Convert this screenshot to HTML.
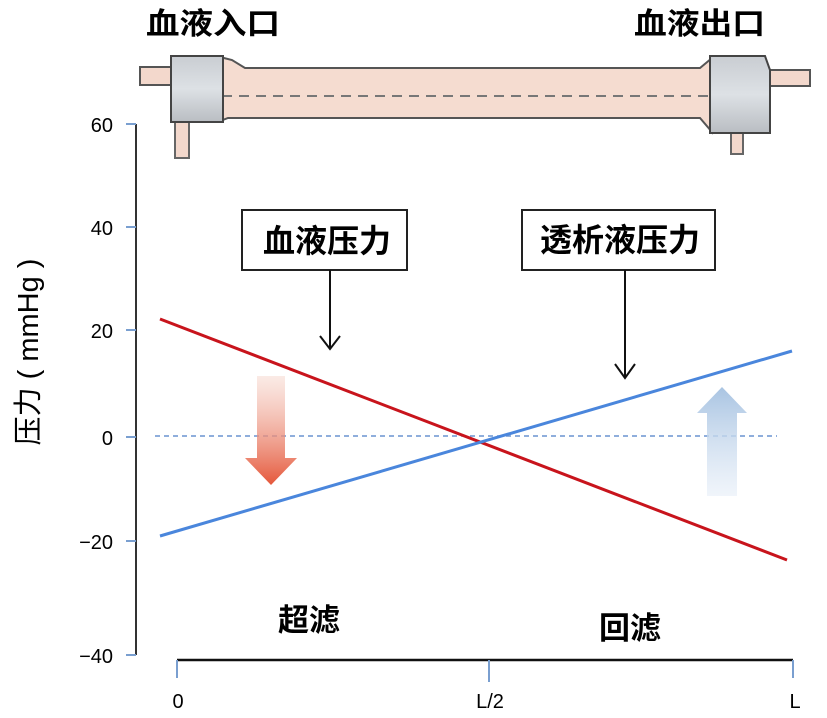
<!DOCTYPE html>
<html><head><meta charset="utf-8"><style>
html,body{margin:0;padding:0;background:#fff;}
svg{display:block}
text{font-family:"Liberation Sans","Noto Sans CJK SC",sans-serif;}
</style></head><body>
<svg width="827" height="718" viewBox="0 0 827 718" xmlns="http://www.w3.org/2000/svg">
<defs>
<linearGradient id="rg" x1="0" y1="0" x2="0" y2="1">
<stop offset="0" stop-color="#f6d6cc" stop-opacity="0.5"/><stop offset="1" stop-color="#e5573a"/>
</linearGradient>
<linearGradient id="bg" x1="0" y1="0" x2="0" y2="1">
<stop offset="0" stop-color="#a9c4e2"/><stop offset="1" stop-color="#e6eef8" stop-opacity="0.6"/>
</linearGradient>
<linearGradient id="gb" x1="0" y1="0" x2="0" y2="1">
<stop offset="0" stop-color="#c9cdd2"/><stop offset="0.5" stop-color="#dde1e5"/><stop offset="1" stop-color="#b9bdc2"/>
</linearGradient>
</defs>
<text x="146" y="34" font-size="30" font-weight="bold" textLength="134" lengthAdjust="spacingAndGlyphs">血液入口</text>
<text x="634" y="34" font-size="30" font-weight="bold" textLength="131" lengthAdjust="spacingAndGlyphs">血液出口</text>
<rect x="140" y="67" width="35" height="18" fill="#f3d8cc" stroke="#555" stroke-width="2"/>
<rect x="770" y="70" width="40" height="16" fill="#f3d8cc" stroke="#555" stroke-width="2"/>
<rect x="175" y="120" width="14" height="38" fill="#f3d8cc" stroke="#666" stroke-width="2"/>
<rect x="731" y="128" width="12" height="26" fill="#f3d8cc" stroke="#666" stroke-width="2"/>
<path d="M220 57 L232 60 L245 68 L700 68 L712 58 L712 132 L700 118 L228 118 L220 121 Z" fill="#f5dcd0" stroke="#555" stroke-width="2"/>
<line x1="222" y1="96" x2="710" y2="96" stroke="#777" stroke-width="2" stroke-dasharray="10,7"/>
<rect x="171" y="56" width="52" height="66" fill="url(#gb)" stroke="#444" stroke-width="2"/>
<path d="M710 56 L765 56 L770 70 L770 133 L710 133 Z" fill="url(#gb)" stroke="#444" stroke-width="2"/>
<line x1="136" y1="124" x2="136" y2="655" stroke="#333" stroke-width="2"/>
<g stroke="#7a9fd0" stroke-width="2">
<line x1="126" y1="124" x2="136" y2="124"/><line x1="126" y1="227" x2="136" y2="227"/>
<line x1="126" y1="330" x2="136" y2="330"/><line x1="126" y1="437" x2="136" y2="437"/>
<line x1="126" y1="541" x2="136" y2="541"/><line x1="126" y1="655" x2="136" y2="655"/>
</g>
<g font-size="20" text-anchor="end">
<text x="113" y="132">60</text><text x="113" y="235">40</text><text x="113" y="338">20</text>
<text x="113" y="445">0</text><text x="113" y="549">−20</text><text x="113" y="663">−40</text>
</g>
<text transform="translate(38,352) rotate(-90)" font-size="29" text-anchor="middle">压力 ( mmHg )</text>
<line x1="177" y1="660" x2="793" y2="660" stroke="#111" stroke-width="2.5"/>
<g stroke="#7a9fd0" stroke-width="2">
<line x1="177" y1="660" x2="177" y2="678"/><line x1="489" y1="660" x2="489" y2="682"/><line x1="793" y1="660" x2="793" y2="678"/>
</g>
<g font-size="20" text-anchor="middle">
<text x="178" y="708">0</text><text x="490" y="708">L/2</text><text x="795" y="708">L</text>
</g>
<text x="309" y="631" font-size="31" font-weight="bold" text-anchor="middle">超滤</text>
<text x="630" y="639" font-size="31" font-weight="bold" text-anchor="middle">回滤</text>
<line x1="155" y1="436" x2="777" y2="436" stroke="#6a94d0" stroke-width="1.5" stroke-dasharray="5,4"/>
<path d="M257 376 L285 376 L285 458 L297 458 L271 485 L245 458 L257 458 Z" fill="url(#rg)"/>
<path d="M722 387 L747 413 L737 413 L737 496 L707 496 L707 413 L697 413 Z" fill="url(#bg)"/>
<line x1="160" y1="319" x2="787" y2="560" stroke="#c8141c" stroke-width="3"/>
<line x1="160" y1="536" x2="792" y2="351" stroke="#4a86dc" stroke-width="3"/>
<rect x="242" y="210" width="165" height="60" fill="#fff" stroke="#222" stroke-width="2"/>
<text x="327" y="252" font-size="32" font-weight="bold" text-anchor="middle">血液压力</text>
<rect x="522" y="210" width="193" height="60" fill="#fff" stroke="#222" stroke-width="2"/>
<text x="620" y="251" font-size="32" font-weight="bold" text-anchor="middle">透析液压力</text>
<g stroke="#111" stroke-width="2" fill="none">
<line x1="330" y1="270" x2="330" y2="349"/><path d="M320 336 L330 349 L340 336"/>
<line x1="625" y1="270" x2="625" y2="378"/><path d="M615 364 L625 378 L635 364"/>
</g>
</svg>
</body></html>
